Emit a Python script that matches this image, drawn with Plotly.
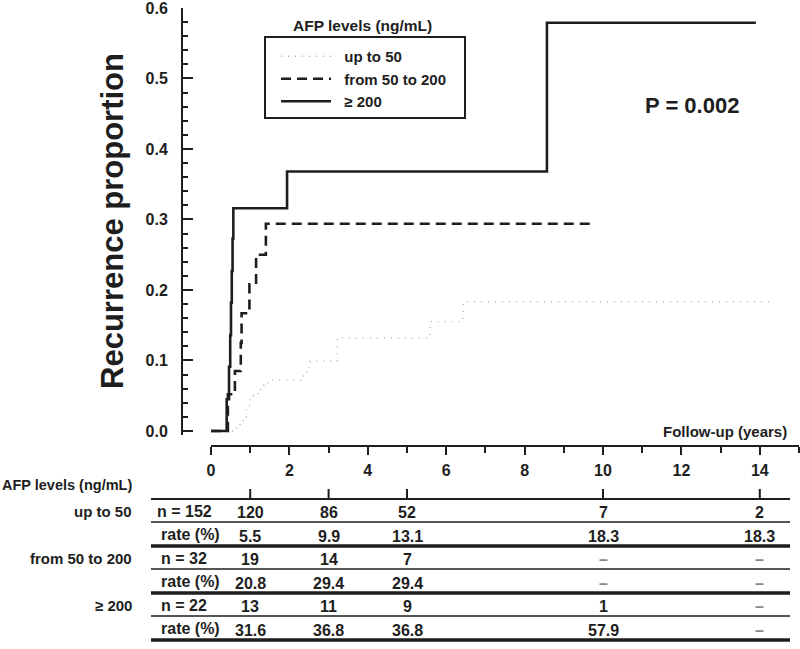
import plotly.graph_objects as go

# 累積再発率 (Kaplan-Meier) 曲線: 図から読み取った値
times_low = [0, 0.66, 0.74, 0.82, 0.9, 0.98, 1.08, 1.2, 1.35, 1.46, 2.36, 2.44, 2.53, 3.22, 5.59, 6.43, 14.34]
vals_low = [0, 0.006, 0.013, 0.02, 0.033, 0.044, 0.05, 0.059, 0.065, 0.072, 0.08, 0.09, 0.099, 0.132, 0.155, 0.183, 0.183]

times_mid = [0, 0.43, 0.61, 0.76, 0.78, 0.98, 1.15, 1.40, 9.72]
vals_mid = [0, 0.052, 0.085, 0.125, 0.167, 0.208, 0.25, 0.294, 0.294]

times_high = [0, 0.40, 0.46, 0.49, 0.51, 0.53, 0.55, 0.57, 1.94, 8.57, 13.9]
vals_high = [0, 0.045, 0.091, 0.136, 0.182, 0.227, 0.273, 0.316, 0.368, 0.579, 0.579]

group_names = ["up to 50", "from 50 to 200", "≥ 200"]
y_ticks = [0.0, 0.1, 0.2, 0.3, 0.4, 0.5, 0.6]

# リスク表
table_cols = [1, 3, 5, 10, 14]
n_start = ["n = 152", "n = 32", "n = 22"]
risk_low = ["120", "86", "52", "7", "2"]
rate_low = ["5.5", "9.9", "13.1", "18.3", "18.3"]
risk_mid = ["19", "14", "7", "–", "–"]
rate_mid = ["20.8", "29.4", "29.4", "–", "–"]
risk_high = ["13", "11", "9", "1", "–"]
rate_high = ["31.6", "36.8", "36.8", "57.9", "–"]

W, H = 800, 649
FONT = "Liberation Sans, Arial, sans-serif"
INK = "#1e1e1e"


def px(x):
    return x / W


def py(y):
    return 1 - y / H


fig = go.Figure()

styles = [
    dict(color="#a8a8a8", width=1.3, dash="1px,6px"),
    dict(color=INK, width=2.6, dash="10px,6px"),
    dict(color=INK, width=2.6),
]
for name, xs, ys, st in zip(group_names,
                            [times_low, times_mid, times_high],
                            [vals_low, vals_mid, vals_high], styles):
    fig.add_trace(go.Scatter(
        x=xs, y=ys, mode="lines",
        # 凡例の線とテキストの間隔を広げる (先頭の空白が trim されないよう ZWSP を置く)
        name="\u200b\u00a0\u00a0" + name,
        line=dict(shape="hv", **st),
        hoverinfo="skip",
    ))

annotations = [
    dict(text="AFP levels (ng/mL)", x=px(362), y=py(25), xanchor="center", yanchor="middle",
         font=dict(size=15.5, family=FONT, weight="bold", color=INK)),
    dict(text="P = 0.002", x=px(692), y=py(105), xanchor="center", yanchor="middle",
         font=dict(size=22, family=FONT, weight="bold", color=INK)),
    dict(text="Follow-up (years)", x=px(789), y=py(431), xanchor="right", yanchor="middle",
         font=dict(size=15, family=FONT, weight="bold", color=INK)),
    dict(text="AFP levels (ng/mL)", x=px(134), y=py(485), xanchor="right", yanchor="middle",
         font=dict(size=14.5, family=FONT, weight="bold", color=INK)),
]

shapes = [
    # 凡例の枠
    dict(type="rect", xref="paper", yref="paper", x0=px(265), x1=px(465), y0=py(118), y1=py(37),
         line=dict(color=INK, width=2)),
    # 表の上端線
    dict(type="line", xref="paper", yref="paper", x0=px(151), x1=px(790), y0=py(499), y1=py(499),
         line=dict(color=INK, width=2)),
]
for c in table_cols:
    shapes.append(dict(type="line", xref="x", yref="paper", x0=c, x1=c, y0=py(499), y1=py(489),
                       line=dict(color=INK, width=2)))

table_rows = [
    (group_names[0], n_start[0], risk_low, rate_low),
    (group_names[1], n_start[1], risk_mid, rate_mid),
    (group_names[2], n_start[2], risk_high, rate_high),
]
row_top = 511
for i, (label, n0, risk, rate) in enumerate(table_rows):
    y_n = row_top + i * 47
    y_r = y_n + 23
    tfont = dict(size=16, family=FONT, weight="bold", color=INK)
    annotations.append(dict(text=label, x=px(134), y=py(y_n), xanchor="right", yanchor="middle",
                            font=dict(size=15, family=FONT, weight="bold", color=INK)))
    annotations.append(dict(text=n0, x=px(184), y=py(y_n), xanchor="center", yanchor="middle", font=tfont))
    annotations.append(dict(text="rate (%)", x=px(190), y=py(y_r), xanchor="center", yanchor="middle", font=tfont))
    for c, a, r in zip(table_cols, risk, rate):
        dim = a == "–"
        annotations.append(dict(text=a, x=c, xref="x", y=py(y_n + 1), xanchor="center", yanchor="middle",
                                font=dict(tfont, color="#888" if dim else INK)))
        dim = r == "–"
        annotations.append(dict(text=r, x=c, xref="x", y=py(y_r + 2), xanchor="center", yanchor="middle",
                                font=dict(tfont, color="#888" if dim else INK)))
    # 行の区切り線 (細線) と群の区切り線 (太線)
    shapes.append(dict(type="line", xref="paper", yref="paper", x0=px(151), x1=px(790),
                       y0=py(y_n + 11), y1=py(y_n + 11), line=dict(color=INK, width=1.5)))
    shapes.append(dict(type="line", xref="paper", yref="paper", x0=px(151), x1=px(790),
                       y0=py(y_r + 12), y1=py(y_r + 12), line=dict(color=INK, width=3.5)))

for a in annotations:
    a.setdefault("xref", "paper")
    a.setdefault("yref", "paper")
    a["showarrow"] = False

fig.update_layout(
    width=W, height=H,
    margin=dict(l=0, r=0, t=0, b=0, autoexpand=False),
    paper_bgcolor="white", plot_bgcolor="white",
    showlegend=True,
    legend=dict(x=px(276), y=py(40), xanchor="left", yanchor="top",
                bgcolor="rgba(0,0,0,0)", borderwidth=0, itemwidth=50,
                font=dict(size=15, family=FONT, weight="bold", color=INK)),
    xaxis=dict(
        domain=[px(211), px(799)], range=[0, 15], anchor="free", position=py(446),
        automargin=False,
        showline=True, linewidth=2, linecolor=INK, showgrid=False, zeroline=False,
        tick0=0, dtick=2, ticks="outside", ticklen=8, tickwidth=2, tickcolor=INK,
        minor=dict(dtick=1, ticks="outside", ticklen=6, tickwidth=2, tickcolor=INK, showgrid=False),
        tickfont=dict(size=16, family=FONT, weight="bold", color=INK),
        ticklabelstandoff=2,
    ),
    yaxis=dict(
        domain=[py(434.5), py(7.5)], range=[-0.005, 0.6007], anchor="free", position=px(182),
        automargin=False,
        showline=True, linewidth=2, linecolor=INK, showgrid=False, zeroline=False,
        tickmode="array", tickvals=y_ticks, ticktext=[f"{v:.1f}" for v in y_ticks],
        ticks="inside", ticklen=10, tickwidth=2, tickcolor=INK,
        minor=dict(dtick=0.02, tick0=0, ticks="inside", ticklen=5, tickwidth=2, tickcolor=INK, showgrid=False),
        tickfont=dict(size=16, family=FONT, weight="bold", color=INK),
        ticklabelstandoff=10,
        ticklabeloverflow="allow",
        title=dict(text="Recurrence proportion", standoff=12,
                   font=dict(size=31, family=FONT, weight="bold", color=INK)),
    ),
    annotations=annotations,
    shapes=shapes,
)

# ブラウザ既定の body 余白 (8px) を消して図を左上に揃える
fig.write_html("out.html", config={"displayModeBar": False},
               post_script="document.body.style.margin='0';")
